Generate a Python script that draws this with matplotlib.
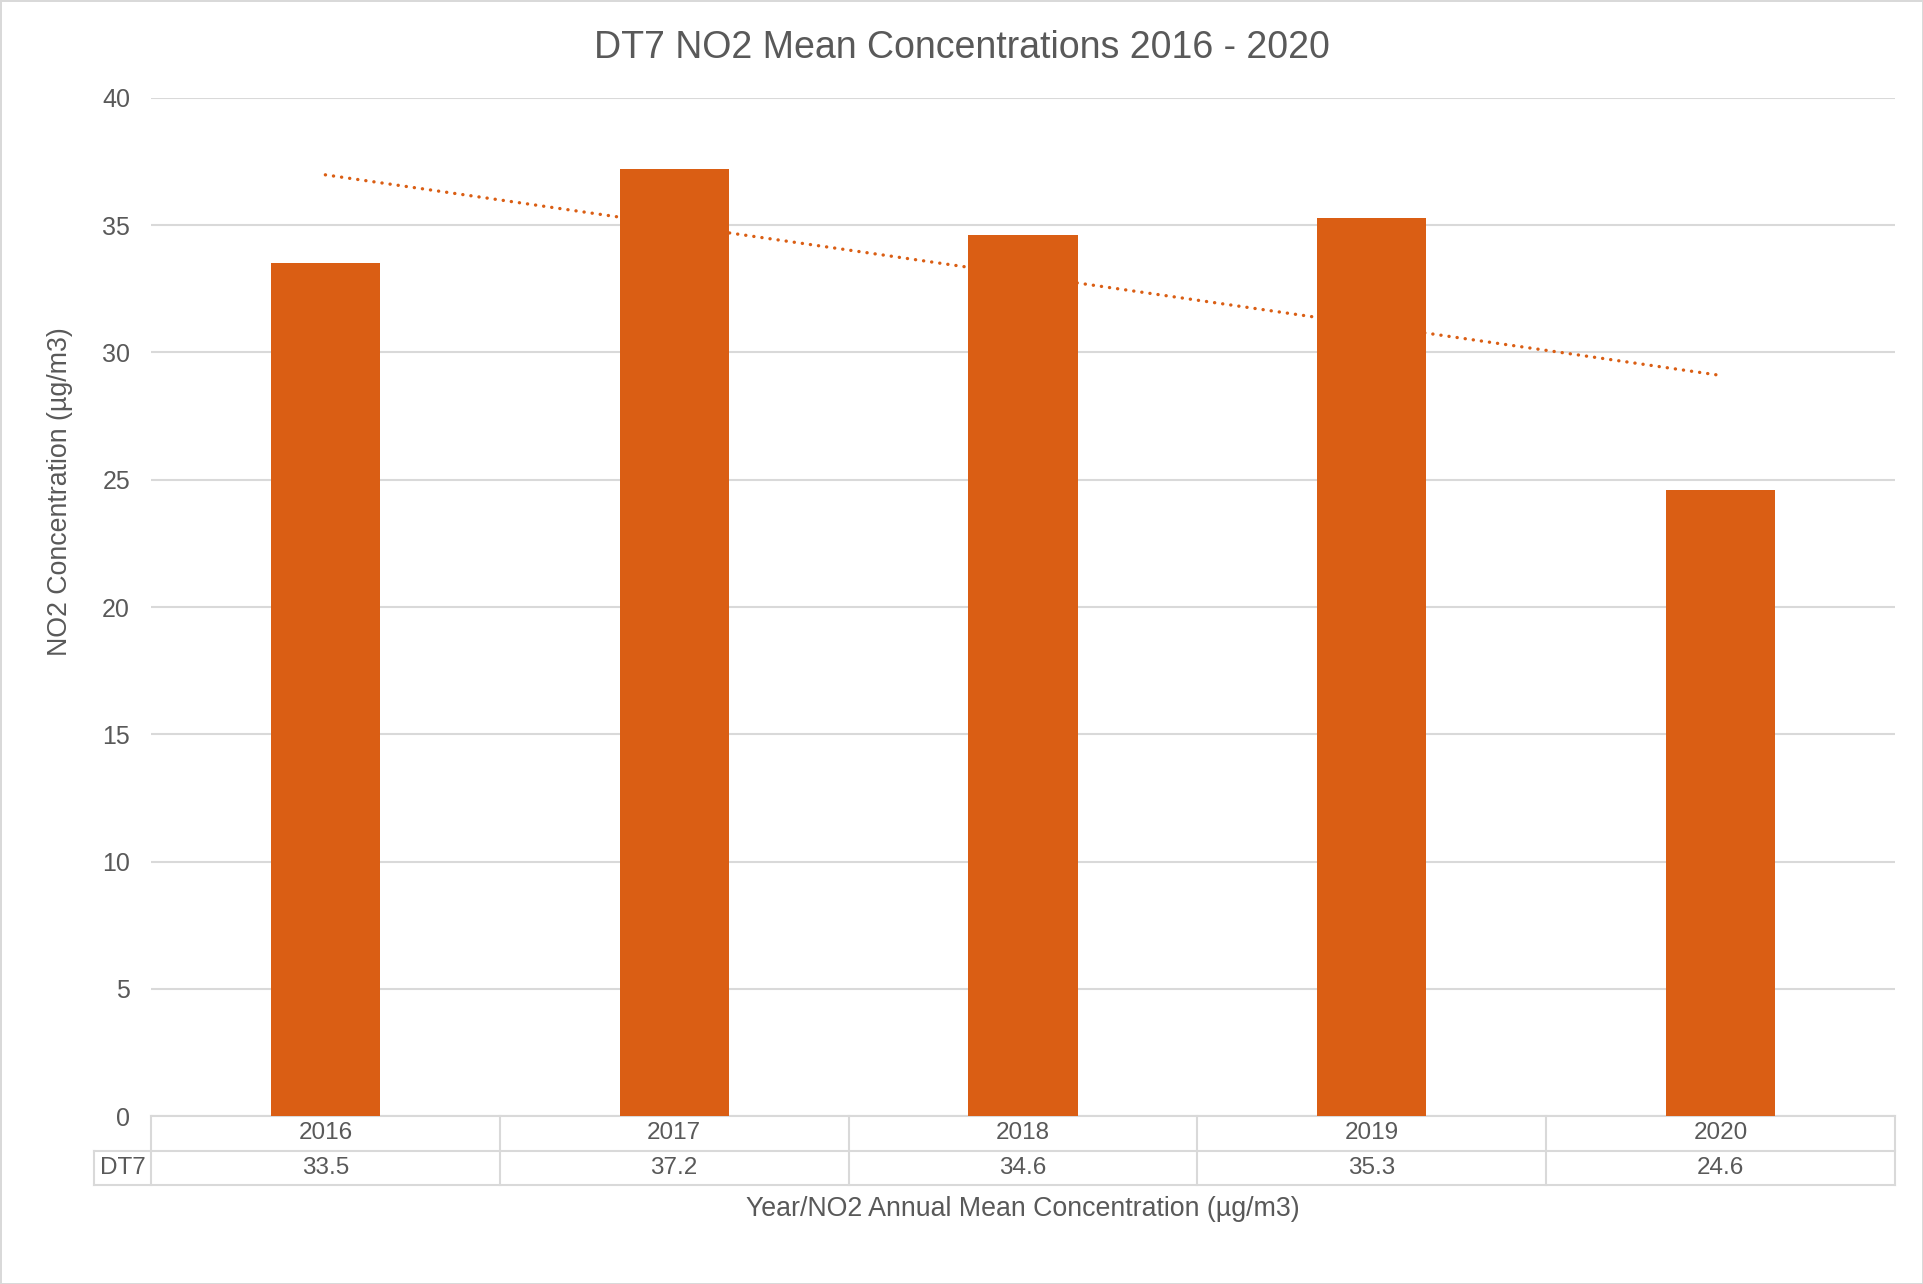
import matplotlib.pyplot as plt
import numpy as np

plt.rcParams['font.family'] = ['Liberation Sans', 'DejaVu Sans']

years = ['2016', '2017', '2018', '2019', '2020']
dt7 = [33.5, 37.2, 34.6, 35.3, 24.6]
row_label = 'DT7'

ORANGE = '#DA5E14'
TXT = '#595959'
GRID = '#D9D9D9'

fig = plt.figure(figsize=(19.23, 12.84), dpi=100)
fig.patch.set_edgecolor(GRID)
fig.patch.set_linewidth(2)
ax = fig.add_axes([0.0785, 0.1308, 0.9069, 0.7929])

x = np.arange(len(years))
ax.bar(x, dt7, width=0.313, color=ORANGE, zorder=3)

# trendline lineaire (comme excel)
p = np.polyfit(x, dt7, 1)
ax.plot(x, np.polyval(p, x), color=ORANGE, lw=2.4, linestyle=(0, (0.05, 2.4)),
        dash_capstyle='round', zorder=4)

ax.set_xlim(-0.5, len(years) - 0.5)
ax.set_ylim(0, 40)
ax.set_yticks(range(0, 41, 5))
ax.grid(axis='y', color=GRID, lw=1.5, zorder=0)
ax.tick_params(axis='y', length=0, pad=15, labelsize=18, labelcolor=TXT)
ax.set_xticks([])
for s in ax.spines.values():
    s.set_visible(False)

# titre centre sur la figure
fig.text(0.5, 1 - 48 / 1284, 'DT7 NO2 Mean Concentrations 2016 - 2020', ha='center',
         va='center', fontsize=27, color=TXT)
fig.text(60 / 1923, (1284 - 492) / 1284, 'NO2 Concentration (µg/m3)', rotation=90,
         ha='center', va='center', fontsize=19.3, color=TXT)

# tableau de donnees sous le graphe
rh = 0.0339
left = -0.0327
n = len(years)
kw = dict(transform=ax.transAxes, color=GRID, lw=1.5, clip_on=False)
ax.plot([0, 1], [0, 0], **kw)
ax.plot([left, 1], [-rh, -rh], **kw)
ax.plot([left, 1], [-2 * rh, -2 * rh], **kw)
ax.plot([left, left], [-rh, -2 * rh], **kw)
for i in range(n + 1):
    ax.plot([i / n, i / n], [0, -2 * rh], **kw)
for i in range(n):
    ax.text((i + 0.5) / n, -rh / 2, years[i], transform=ax.transAxes, ha='center',
            va='center', fontsize=17.5, color=TXT)
    ax.text((i + 0.5) / n, -1.5 * rh, str(dt7[i]), transform=ax.transAxes, ha='center',
            va='center', fontsize=17.5, color=TXT)
ax.text(left / 2, -1.5 * rh, row_label, transform=ax.transAxes, ha='center',
        va='center', fontsize=17.5, color=TXT)

# titre de l'axe x, centre sur la zone du graphe
ax.text(0.5, -(1209 - 1116) / 1018, 'Year/NO2 Annual Mean Concentration (µg/m3)',
        transform=ax.transAxes, ha='center', va='center', fontsize=19.3, color=TXT)

fig.savefig('out.png', dpi=100)
